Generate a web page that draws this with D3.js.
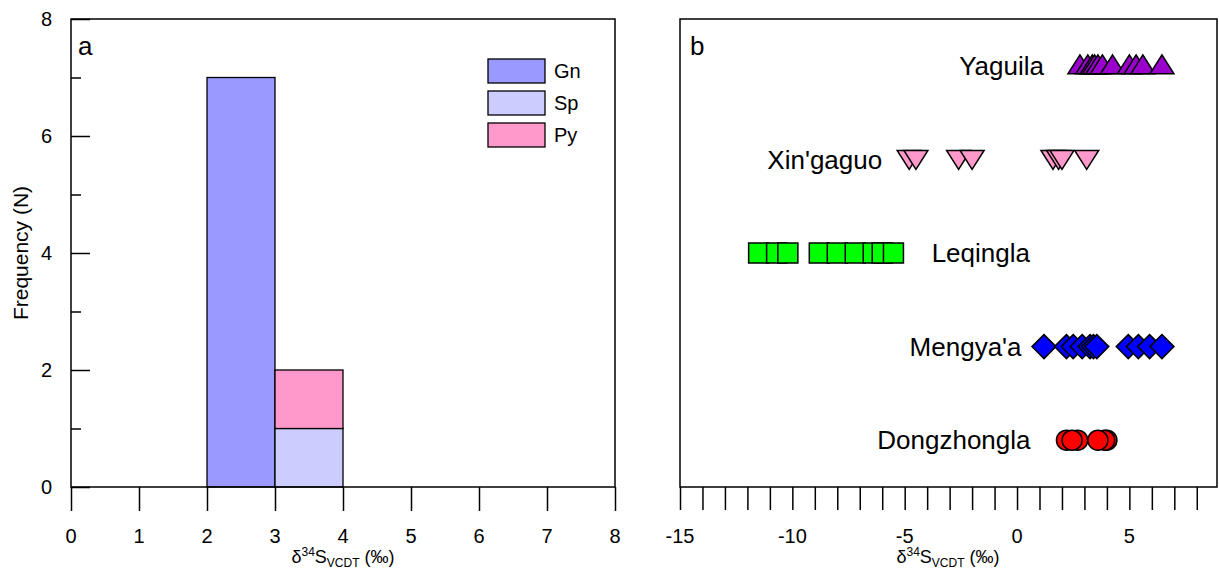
<!DOCTYPE html>
<html>
<head>
<meta charset="utf-8">
<title>Sulfur isotopes</title>
<script src="https://cdn.jsdelivr.net/npm/d3@7"></script>
<style>
    body { margin: 0; background: #fff; font-family: Arial, "Liberation Sans", sans-serif; }
    svg text { font-family: Arial, "Liberation Sans", sans-serif; fill: #000; }
</style>
</head>
<body>
<svg id="chart" width="1219" height="572"></svg>
<script>
// ---- panel a: histogram data (bin start, bin end, count)
const binEdges = [2, 3, 4];
const gnCounts = [7, 0];
const spCounts = [0, 1];
const pyCounts = [0, 1];
const histTicksX = [0, 1, 2, 3, 4, 5, 6, 7, 8];
const histTicksY = [0, 2, 4, 6, 8];
const histMinorY = [1, 3, 5, 7];
const legendNames = ["Gn", "Sp", "Py"];

// ---- panel b: d34S values per deposit
const deposits = ["Yaguila", "Xin'gaguo", "Leqingla", "Mengya'a", "Dongzhongla"];
const yaguila = [2.8, 3.15, 3.35, 3.45, 3.6, 3.8, 4.25, 5.0, 5.3, 5.6, 6.45];
const xingaguo = [-4.8, -4.5, -2.6, -2.0, 1.6, 1.85, 2.0, 3.1];
const leqingla = [-11.5, -10.7, -10.2, -8.8, -8.0, -7.2, -6.4, -6.0, -5.5];
const mengyaa = [1.2, 2.2, 2.5, 2.9, 3.25, 3.4, 3.55, 4.95, 5.4, 5.9, 6.45];
const dongzhongla = [2.2, 2.7, 4.0, 3.9, 2.45, 3.6];
const depositValues = [yaguila, xingaguo, leqingla, mengyaa, dongzhongla];
const scatterTicksMajor = [-15, -10, -5, 0, 5];

// styling
const histColors = { Gn: "#9999ff", Sp: "#ccccff", Py: "#ff99cc" };
const depColors = ["#9900cc", "#ff99cc", "#00ff00", "#0000ff", "#ff0000"];
const depShapes = ["up", "down", "square", "diamond", "circle"];
const depRows = [0.9, 0.7, 0.5, 0.3, 0.1];
// label anchor: x in data units, text-anchor
const depLabels = [[1.2, "end"], [-6.0, "end"], [-3.8, "start"], [0.2, "end"], [0.6, "end"]];

const svg = d3.select("#chart");
const plotTop = 19, plotBottom = 487;

// ---------------- panel a ----------------
const xa = d3.scaleLinear().domain([0, 8]).range([71, 615]);
const ya = d3.scaleLinear().domain([0, 8]).range([plotBottom, plotTop]);
const ga = svg.append("g");

function bars(counts, base, color) {
    counts.forEach((c, i) => {
        if (!c) return;
        const b0 = base ? base[i] : 0;
        ga.append("rect")
            .attr("x", xa(binEdges[i]))
            .attr("y", ya(b0 + c))
            .attr("width", xa(binEdges[i + 1]) - xa(binEdges[i]))
            .attr("height", ya(b0) - ya(b0 + c))
            .attr("fill", color)
            .attr("stroke", "#000")
            .attr("stroke-width", 1.3);
    });
}
bars(gnCounts, null, histColors.Gn);
bars(spCounts, null, histColors.Sp);
bars(pyCounts, spCounts, histColors.Py);

ga.append("rect").attr("x", 71).attr("y", plotTop).attr("width", 544).attr("height", plotBottom - plotTop)
    .attr("fill", "none").attr("stroke", "#000").attr("stroke-width", 1.5);

// y axis (ticks inward)
ga.append("g").attr("transform", `translate(71,0)`)
    .call(d3.axisRight(ya).tickValues(histTicksY).tickSize(19).tickFormat(""))
    .call(g => g.select(".domain").remove())
    .selectAll("line").attr("stroke-width", 1.5);
ga.append("g").attr("transform", `translate(71,0)`)
    .call(d3.axisRight(ya).tickValues(histMinorY).tickSize(10).tickFormat(""))
    .call(g => g.select(".domain").remove())
    .selectAll("line").attr("stroke-width", 1.5);
histTicksY.forEach(v => {
    ga.append("text").attr("x", 52).attr("y", ya(v)).attr("dy", "0.35em")
        .attr("text-anchor", "end").attr("font-size", 20).text(v);
});
ga.append("text").attr("transform", `translate(21,${(plotTop + plotBottom) / 2}) rotate(-90)`)
    .attr("text-anchor", "middle").attr("dy", "0.35em").attr("font-size", 21).text("Frequency (N)");

// x axis (ticks outward)
ga.append("g").attr("transform", `translate(0,${plotBottom})`)
    .call(d3.axisBottom(xa).tickValues(histTicksX).tickSize(24).tickFormat(""))
    .call(g => g.select(".domain").remove())
    .selectAll("line").attr("stroke-width", 1.5);
histTicksX.forEach(v => {
    ga.append("text").attr("x", xa(v)).attr("y", 536).attr("dy", "0.35em")
        .attr("text-anchor", "middle").attr("font-size", 20).text(v);
});

function xTitle(g, cx) {
    const t = g.append("text").attr("x", cx).attr("y", 563).attr("text-anchor", "middle").attr("font-size", 18);
    t.append("tspan").text("δ");
    t.append("tspan").attr("font-size", 12).attr("dy", -7).text("34");
    t.append("tspan").attr("dy", 7).text("S");
    t.append("tspan").attr("font-size", 12).attr("dy", 4).text("VCDT");
    t.append("tspan").attr("dy", -4).text(" (‰)");
}
xTitle(ga, 343);

ga.append("text").attr("x", 78).attr("y", 55).attr("font-size", 26).text("a");

// legend
legendNames.forEach((n, i) => {
    const y0 = 59 + i * 32;
    ga.append("rect").attr("x", 488).attr("y", y0).attr("width", 57).attr("height", 24)
        .attr("fill", histColors[n]).attr("stroke", "#000").attr("stroke-width", 1.3);
    ga.append("text").attr("x", 554).attr("y", y0 + 12).attr("dy", "0.35em")
        .attr("font-size", 20).text(n);
});

// ---------------- panel b ----------------
const xb = d3.scaleLinear().domain([-15, 8.9]).range([680, 1217]);
const yb = d3.scaleLinear().domain([0, 1]).range([plotBottom, plotTop]);
const gb = svg.append("g");

gb.append("rect").attr("x", 680).attr("y", plotTop).attr("width", 537).attr("height", plotBottom - plotTop)
    .attr("fill", "none").attr("stroke", "#000").attr("stroke-width", 1.5);

gb.append("g").attr("transform", `translate(0,${plotBottom})`)
    .call(d3.axisBottom(xb).tickValues(d3.range(-15, 9)).tickSize(23).tickFormat(""))
    .call(g => g.select(".domain").remove())
    .selectAll("line").attr("stroke-width", 1.5);
scatterTicksMajor.forEach(v => {
    gb.append("text").attr("x", xb(v)).attr("y", 536).attr("dy", "0.35em")
        .attr("text-anchor", "middle").attr("font-size", 20).text(v);
});
xTitle(gb, 948);
gb.append("text").attr("x", 690).attr("y", 55).attr("font-size", 26).text("b");

function shapePath(kind) {
    switch (kind) {
        case "up": return "M0,-11L12,8L-12,8Z";
        case "down": return "M0,10L12,-9L-12,-9Z";
        case "square": return "M-10,-10H10V10H-10Z";
        case "diamond": return "M0,-12L12,0L0,12L-12,0Z";
        default: return d3.symbol(d3.symbolCircle, Math.PI * 100)();
    }
}

deposits.forEach((name, i) => {
    const cy = yb(depRows[i]);
    gb.append("g").selectAll("path").data(depositValues[i]).join("path")
        .attr("d", shapePath(depShapes[i]))
        .attr("transform", d => `translate(${xb(d)},${cy})`)
        .attr("fill", depColors[i]).attr("stroke", "#000").attr("stroke-width", 1.5);
    gb.append("text").attr("x", xb(depLabels[i][0])).attr("y", cy).attr("dy", "0.35em")
        .attr("text-anchor", depLabels[i][1]).attr("font-size", 26).text(name);
});
</script>
</body>
</html>
